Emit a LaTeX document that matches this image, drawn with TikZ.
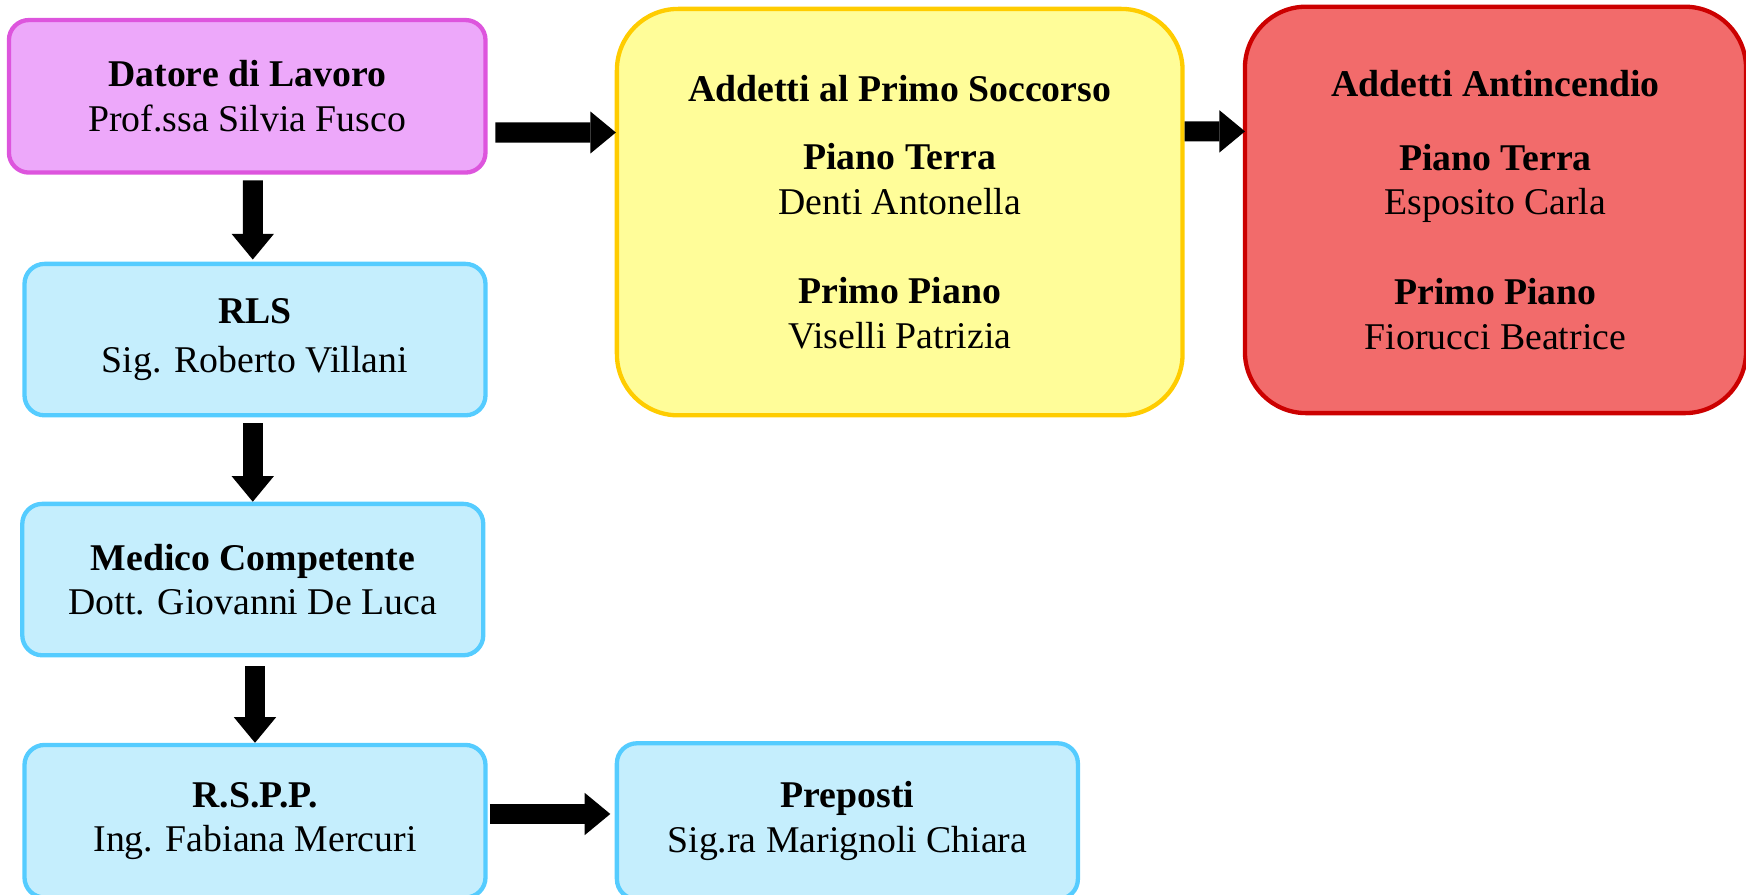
\documentclass[tikz,border=0pt]{standalone}
\usepackage{fontspec}
\setmainfont{Liberation Serif}
\usetikzlibrary{positioning,arrows.meta}

\definecolor{violafill}{HTML}{EDA8FA}
\definecolor{violaline}{HTML}{DD55DD}
\definecolor{azzfill}{HTML}{C5EEFD}
\definecolor{azzline}{HTML}{55CCFF}
\definecolor{giallofill}{HTML}{FFFD99}
\definecolor{gialloline}{HTML}{FFCC00}
\definecolor{rossofill}{HTML}{F26B6B}
\definecolor{rossoline}{HTML}{CC0000}

\begin{document}
\begin{tikzpicture}[on grid,
    box/.style={rectangle,rounded corners=0.36cm,line width=2.2pt,align=center,
      font=\fontsize{19.3}{22.8}\selectfont,inner sep=0pt},
    ruolo/.style={box,draw=azzline,fill=azzfill,minimum width=8.28cm,minimum height=2.72cm},
    gruppo/.style={box,rounded corners=1.1cm,minimum height=7.3cm},
    freccia/.style={line width=0.36cm,-{Triangle[width=0.76cm,length=0.46cm,line width=0pt]}}]
        \useasboundingbox (0,0) rectangle (31.36,-16.06);
        \node[box,draw=violaline,fill=violafill,minimum width=8.56cm,minimum height=2.74cm] (datore) at (4.44,-1.73)
            {\textbf{Datore di Lavoro}\\Prof.ssa Silvia Fusco};
        \node[ruolo] (rls) [below=4.37cm of datore,xshift=0.14cm] {\textbf{RLS}\\[2pt]Sig. Roberto Villani};
        \node[ruolo] (medico) [below=4.31cm of rls,xshift=-0.04cm] {\textbf{Medico Competente}\\Dott. Giovanni De Luca};
        \node[ruolo,minimum height=2.74cm] (rspp) [below=4.34cm of medico,xshift=0.04cm] {\textbf{R.S.P.P.}\\Ing. Fabiana Mercuri};
        \node[ruolo,minimum height=2.8cm] (preposti) [right=10.64cm of rspp] {\textbf{Preposti}\\Sig.ra Marignoli Chiara};
        \node[gruppo,draw=gialloline,fill=giallofill,minimum width=10.16cm] (soccorso) [below right=2.08cm and 11.72cm of datore]
            {\textbf{Addetti al Primo Soccorso}\\[12pt]\textbf{Piano Terra}\\Denti Antonella\\[23pt]\textbf{Primo Piano}\\Viselli Patrizia};
        \node[gruppo,draw=rossoline,fill=rossofill,minimum width=9cm] (antincendio) [right=10.7cm of soccorso,yshift=0.04cm]
            {\textbf{Addetti Antincendio}\\[15pt]\textbf{Piano Terra}\\Esposito Carla\\[23pt]\textbf{Primo Piano}\\Fiorucci Beatrice};
        % frecce
        \draw[freccia] ([xshift=0.1cm,yshift=-0.1cm]datore.south) -- ([xshift=-0.04cm,yshift=0.04cm]rls.north);
        \draw[freccia] ([xshift=-0.04cm,yshift=-0.1cm]rls.south) -- (medico.north);
        \draw[freccia] ([xshift=0.04cm,yshift=-0.16cm]medico.south) -- (rspp.north);
        \draw[freccia] ([xshift=0.14cm,yshift=-0.65cm]datore.east) -- ([xshift=0.02cm,yshift=1.43cm]soccorso.west);
        \draw[freccia] ([yshift=1.45cm]soccorso.east) -- ([xshift=0.04cm,yshift=1.41cm]antincendio.west);
        \draw[freccia] ([xshift=0.04cm,yshift=0.13cm]rspp.east) -- ([xshift=-0.08cm,yshift=0.13cm]preposti.west);
\end{tikzpicture}
\end{document}
